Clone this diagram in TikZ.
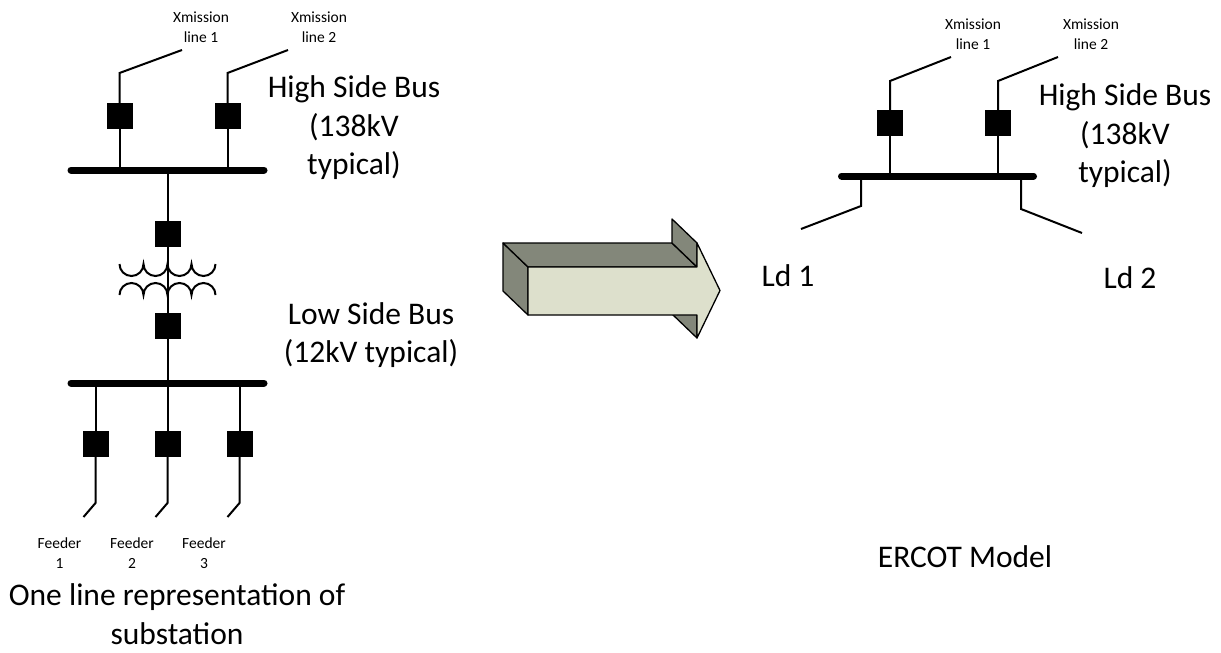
\documentclass[tikz,border=0pt]{standalone}
\usepackage{fontspec}
\setmainfont{Carlito}
\definecolor{arrowdark}{RGB}{131,135,122}
\definecolor{arrowlight}{RGB}{221,224,204}
\begin{document}
\begin{tikzpicture}[x=1pt,y=-1pt,
  brk/.style={draw=black,fill=black,minimum size=25pt,inner sep=0pt,outer sep=0pt},
  wire/.style={line width=2pt},
  busbar/.style={line width=7pt,line cap=round},
  big/.style={font=\fontsize{31.5}{38.5}\selectfont,align=center,inner sep=0pt},
  small/.style={font=\fontsize{15.5}{20}\selectfont,align=center,inner sep=0pt},
  face/.style={draw=black,line width=1.3pt,line join=round},
  ]
\useasboundingbox (0,0) rectangle (1221,653);
% ---------- left: high side ----------
\coordinate (hbL) at (71,170);
\coordinate (hbR) at (264,170);
\draw[busbar] (hbL) -- (hbR);
\node[brk] (b1) at (119.5,115.5) {};
\node[brk] (b2) at (227.5,115.5) {};
\coordinate (t1) at (182,50);
\coordinate (t2) at (288,50);
\draw[wire] (b1.north) -- ++(0,-30) -- (t1);
\draw[wire] (b2.north) -- ++(0,-30) -- (t2);
\draw[wire] (b1.south) -- (b1.south |- hbL);
\draw[wire] (b2.south) -- (b2.south |- hbL);
\node[small] (xl1) at (201,27) {Xmission\\line 1};
\node[small] (xl2) at (319,27) {Xmission\\line 2};
\node[big] (hsL) at (354,128) {High Side Bus\\(138kV\\typical)};
% ---------- transformer ----------
\node[brk] (b3) at (167.5,233.5) {};
\node[brk] (b4) at (167.5,325.5) {};
\draw[wire] (b3.north |- hbL) -- (b3.north);
\draw[wire] (b3.south) -- (b4.north);
\draw[wire] (119.5,264) arc[start angle=180,end angle=0,radius=12]
  arc[start angle=180,end angle=0,radius=12]
  arc[start angle=180,end angle=0,radius=12]
  arc[start angle=180,end angle=0,radius=12];
\draw[wire] (119.5,295) arc[start angle=180,end angle=360,radius=12]
  arc[start angle=180,end angle=360,radius=12]
  arc[start angle=180,end angle=360,radius=12]
  arc[start angle=180,end angle=360,radius=12];
% ---------- low side ----------
\coordinate (lbL) at (71,383);
\coordinate (lbR) at (264,383);
\draw[busbar] (lbL) -- (lbR);
\draw[wire] (b4.south) -- (b4.south |- lbL);
\node[big] (lsb) at (371,335) {Low Side Bus\\(12kV typical)};
\foreach \n/\x in {5/95.5,6/167.5,7/239.5}{
  \node[brk] (b\n) at (\x,443.5) {};
  \coordinate (f\n) at (\x-12,517);
  \draw[wire] (b\n.north |- lbL) -- (b\n.north);
  \draw[wire] (b\n.south) -- ++(0,47) -- (f\n);
}
\node[small] (fd1) at (59.5,553) {Feeder\\1};
\node[small] (fd2) at (132,553) {Feeder\\2};
\node[small] (fd3) at (204,553) {Feeder\\3};
\node[big] (cap1) at (177,614) {One line representation of\\substation};
% ---------- 3D arrow ----------
\fill[arrowdark,face] (503,243) -- (528,267) -- (528,315) -- (503,291) -- cycle;
\fill[arrowdark,face] (503,243) -- (672,243) -- (697,267) -- (528,267) -- cycle;
\fill[arrowdark,face] (672,219) -- (697,243) -- (697,267) -- (672,243) -- cycle;
\fill[arrowdark,face] (672,291) -- (697,315) -- (697,338) -- (672,314) -- cycle;
\fill[arrowlight,face] (528,267) -- (697,267) -- (697,243) -- (720,290.5) -- (697,338) -- (697,315) -- (528,315) -- cycle;
% ---------- right: ERCOT model ----------
\coordinate (rbL) at (841.5,176);
\coordinate (rbR) at (1033.5,176);
\draw[busbar] (rbL) -- (rbR);
\node[brk] (b8) at (890,122.5) {};
\node[brk] (b9) at (998,122.5) {};
\coordinate (t8) at (951,57);
\coordinate (t9) at (1058,57);
\draw[wire] (b8.north) -- ++(0,-29) -- (t8);
\draw[wire] (b9.north) -- ++(0,-29) -- (t9);
\draw[wire] (b8.south) -- (b8.south |- rbL);
\draw[wire] (b9.south) -- (b9.south |- rbL);
\node[small] (xr1) at (973,34) {Xmission\\line 1};
\node[small] (xr2) at (1091,34) {Xmission\\line 2};
\node[big] (hsR) at (1125,136) {High Side Bus\\(138kV\\typical)};
\coordinate (ld1a) at (861,176);
\coordinate (ld1b) at (801,229);
\coordinate (ld2a) at (1021,176);
\coordinate (ld2b) at (1082,233);
\draw[wire] (ld1a) -- ++(0,30) -- (ld1b);
\draw[wire] (ld2a) -- ++(0,33) -- (ld2b);
\node[big] (ld1) at (788,276) {Ld 1};
\node[big] (ld2) at (1130,278) {Ld 2};
\node[big] (ercot) at (965,557) {ERCOT Model};
\end{tikzpicture}
\end{document}
